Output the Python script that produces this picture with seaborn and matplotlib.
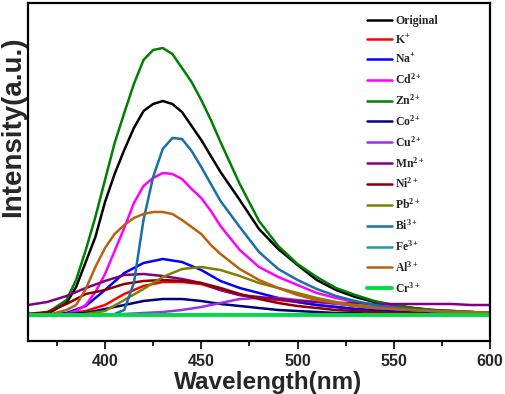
import numpy as np
import pandas as pd
import matplotlib
matplotlib.use("Agg")
import matplotlib.pyplot as plt
import seaborn as sns

# ---------------- data ----------------
wl = [360, 370, 380, 390, 400, 410, 420, 430, 440, 450, 460, 470, 480,
      490, 500, 510, 520, 530, 540, 550, 560, 570, 580, 590, 600]
wl_fine = [360, 370, 380, 385, 390, 395, 400, 405, 410, 415, 420, 425, 430,
           435, 440, 445, 450, 455, 460, 470, 480, 490, 500, 510, 520, 530,
           540, 550, 560, 570, 580, 590, 600]

original = [1, 1, 12, 28, 53, 78, 113, 141, 165, 187, 204, 211, 214, 211, 203,
            189, 175, 159, 143, 115, 86, 66, 50, 35, 25, 18, 13, 10, 7, 5, 4, 3, 2]
zn = [1, 2, 15, 35, 65, 98, 135, 172, 202, 231, 255, 265, 267, 261, 247,
      233, 215, 195, 173, 131, 94, 69, 51, 38, 27, 20, 14, 10, 7, 5, 4, 3, 1]
bi = [0, 0, 0, 0, 0, 0, 0, 1, 5, 32, 95, 138, 166, 177, 176, 164, 148, 131,
      114, 88, 63, 46, 35, 26, 19, 14, 10, 7, 5, 4, 3, 2, 2]
cd = [0, 0, 1, 4, 10, 23, 41, 64, 87, 112, 129, 137, 142, 141, 136, 126,
      117, 104, 89, 65, 48, 38, 30, 22, 17, 13, 10, 8, 6, 5, 4, 3, 2]
al = [0, 0, 5, 10, 26, 48, 67, 81, 90, 97, 101, 103, 103, 101, 95, 88, 81,
      70, 61, 46, 35, 27, 20, 15, 12, 9, 7, 6, 5, 4, 3, 3, 2]

k = [0, 0, 1, 4, 10, 21, 29, 33, 33, 31, 25, 20, 17, 15, 13, 10, 8, 6, 5, 4, 3, 3, 2, 2, 1]
na = [0, 0, 2, 9, 25, 42, 52, 56, 53, 45, 34, 27, 22, 17, 13, 10, 8, 6, 5, 4, 3, 3, 2, 2, 1]
co = [0, 0, 1, 2, 6, 10, 14, 16, 16, 14, 11, 9, 7, 5, 4, 3, 2, 2, 1, 1, 1, 0, 0, 0, 0]
cu = [0, 0, 0, 0, 0, 1, 2, 3, 5, 8, 12, 16, 17, 17, 15, 13, 11, 9, 7, 6, 5, 4, 3, 3, 2]
mn = [10, 13, 19, 27, 34, 40, 41, 39, 36, 32, 25, 20, 18, 16, 14, 13, 12, 12, 11, 11, 11, 11, 11, 10, 10]
ni = [1, 3, 11, 21, 25, 31, 34, 35, 34, 32, 27, 21, 16, 12, 9, 7, 5, 4, 3, 2, 2, 1, 1, 1, 1]
pb = [0, 0, 0, 1, 4, 15, 26, 38, 46, 48, 45, 39, 32, 27, 22, 17, 13, 10, 8, 6, 5, 4, 3, 2, 2]
fe = [1, 1, 1, 1, 1, 1, 1, 1, 1, 1, 1, 1, 1, 1, 1, 1, 1, 1, 1, 1, 1, 1, 1, 1, 1]
cr = [0, 0, 0, 0, 0, 0, 0, 0, 0, 0, 0, 0, 0, 0, 0, 0, 0, 0, 0, 0, 0, 0, 0, 0, 0]

labels = ['Original', 'K$^{+}$', 'Na$^{+}$', 'Cd$^{2+}$', 'Zn$^{2+}$', 'Co$^{2+}$',
          'Cu$^{2+}$', 'Mn$^{2+}$', 'Ni$^{2+}$', 'Pb$^{2+}$', 'Bi$^{3+}$',
          'Fe$^{3+}$', 'Al$^{3+}$', 'Cr$^{3+}$']
xticks = [400, 450, 500, 550, 600]

series = [
    (wl_fine, original, '#000000'),
    (wl, k, '#ff0000'),
    (wl, na, '#0000ff'),
    (wl_fine, cd, '#ff00ff'),
    (wl_fine, zn, '#007f00'),
    (wl, co, '#00007f'),
    (wl, cu, '#9a30f0'),
    (wl, mn, '#800080'),
    (wl, ni, '#8b0000'),
    (wl, pb, '#808000'),
    (wl_fine, bi, '#1a6fa8'),
    (wl, fe, '#12a0a0'),
    (wl_fine, al, '#b8620f'),
    (wl, cr, '#00dd44'),
]

# ---------------- styling ----------------
sns.set_theme(style='white')
plt.rcParams['font.family'] = ['Liberation Sans', 'DejaVu Sans']
plt.rcParams['mathtext.fontset'] = 'custom'
plt.rcParams['mathtext.rm'] = 'Liberation Serif:bold'
plt.rcParams['mathtext.it'] = 'Liberation Serif:bold'
plt.rcParams['mathtext.bf'] = 'Liberation Serif:bold'

fig = plt.figure(figsize=(5.05, 3.94), dpi=100)
ax = fig.add_axes([28 / 505, 1 - 341 / 394, (490 - 28) / 505, (341 - 3) / 394])

for (x, y, c), lab in zip(series, labels):
    lw = 2.8 if lab.startswith('Cr') else 1.8
    sns.lineplot(x=x, y=y, color=c, linewidth=lw, label=lab, ax=ax,
                 estimator=None, sort=False, legend=False,
                 solid_joinstyle='round', solid_capstyle='round')

ax.set_xlim(360, 600)
ax.set_ylim(-26, 312)
ax.set_xticks(xticks)
ax.set_xticks([375, 425, 475, 525, 575], minor=True)
ax.set_yticks([])
ax.tick_params(axis='x', which='major', direction='out', length=5.5, width=1.4,
               pad=3.5, labelsize=11.5, bottom=True)
ax.tick_params(axis='x', which='minor', direction='out', length=3.5, width=1.4,
               bottom=True)
for lab in ax.get_xticklabels():
    lab.set_fontweight('bold')
for sp in ax.spines.values():
    sp.set_linewidth(1.6)
    sp.set_color('black')

ax.set_xlabel('Wavelength(nm)', fontsize=17.5, fontweight='bold')
ax.xaxis.set_label_coords((268 - 28) / 462, -(382 - 341) / 338, transform=ax.transAxes)
ax.xaxis.label.set_va('center')
ax.set_ylabel('Intensity(a.u.)', fontsize=20, fontweight='bold')
ax.yaxis.set_label_coords(-(28 - 13) / 462, (341 - 127) / 338, transform=ax.transAxes)
ax.yaxis.label.set_va('center')

handles = ax.get_lines()
leg = ax.legend(handles, labels, loc='upper left',
                bbox_to_anchor=(367 / 505, 1 - 15 / 394),
                bbox_transform=fig.transFigure, frameon=False,
                fontsize=8.5, handlelength=2.1, handletextpad=0.3,
                labelspacing=0.53, borderpad=0, borderaxespad=0)
for t in leg.get_texts():
    t.set_fontfamily('Liberation Serif')
    t.set_fontweight('bold')

fig.savefig('out.png', dpi=100)
